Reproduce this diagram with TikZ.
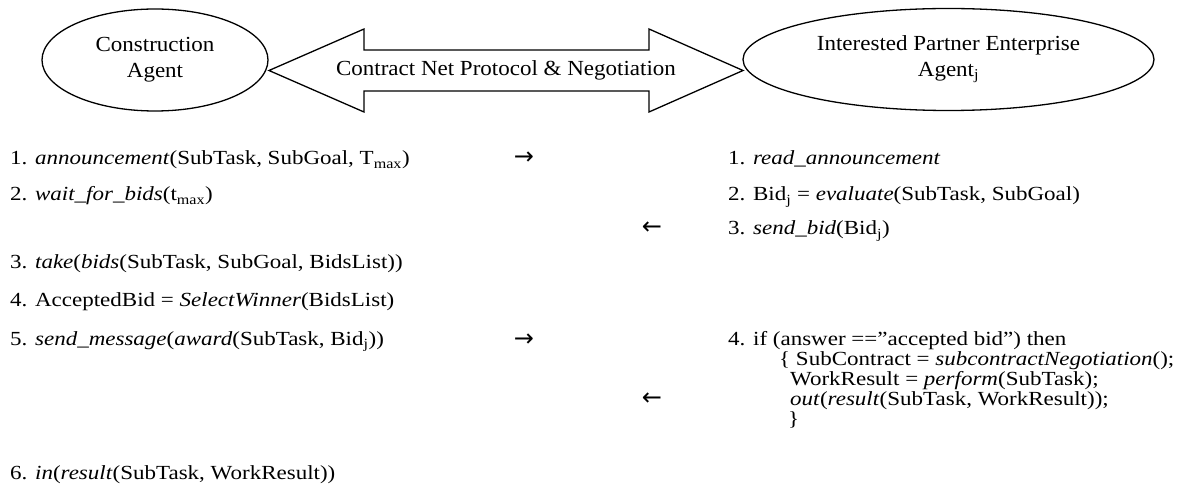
\documentclass[tikz,border=0pt]{standalone}
\usepackage{fontspec}
\setmainfont[FakeStretch=1.15]{Liberation Serif}
\newfontfamily\hdrfont[FakeStretch=1.07]{Liberation Serif}
\newfontfamily\arrfont{DejaVu Sans}
\usetikzlibrary{shapes.geometric}
\tikzset{
  agent/.style={draw, line width=1.3pt, ellipse, inner sep=0pt, align=center,
    font=\hdrfont\fontsize{21.5}{26}\selectfont},
  bigarrow/.style={draw, line width=1.3pt},
  hdr/.style={anchor=base, inner sep=0pt, font=\hdrfont\fontsize{21.5}{26}\selectfont},
  txt/.style={anchor=base west, inner sep=0pt, font=\fontsize{20}{24}\selectfont},
  dir/.style={anchor=base, inner sep=0pt, font=\arrfont\fontsize{24}{28}\selectfont}
}
\begin{document}
\begin{tikzpicture}[x=1pt,y=-1pt]
\useasboundingbox (0,0) rectangle (1186,486);
% agents
\node[agent, minimum width=226pt, minimum height=102pt] (ca) at (155,60) {Construction\\Agent};
\node[agent, minimum width=411pt, minimum height=102pt] (pa) at (948.5,59.5) {Interested Partner Enterprise\\Agent\textsubscript{j}};
% double arrow
\draw[bigarrow] (269,70.5) -- (364,29) -- (364,50) -- (649,50) -- (649,29) -- (743,70.5)
  -- (649,112) -- (649,91) -- (364,91) -- (364,112) -- cycle;
\node[hdr] (cnp) at (506,76) {Contract Net Protocol \& Negotiation};
% left column
\node[txt] (l1) at (10,165) {1. \textit{announcement}(SubTask, SubGoal, T\textsubscript{max})};
\node[txt] (l2) at (10,201) {2. \textit{wait\_for\_bids}(t\textsubscript{max})};
\node[txt] (l3) at (10,269) {3. \textit{take}(\textit{bids}(SubTask, SubGoal, BidsList))};
\node[txt] (l4) at (10,307) {4. AcceptedBid = \textit{SelectWinner}(BidsList)};
\node[txt] (l5) at (10,345) {5. \textit{send\_message}(\textit{award}(SubTask, Bid\textsubscript{j}))};
\node[txt] (l6) at (10,479) {6. \textit{in}(\textit{result}(SubTask, WorkResult))};
% direction arrows
\node[dir] (d1) at (524,165) {→};
\node[dir] (d2) at (652,235) {←};
\node[dir] (d3) at (524,346) {→};
\node[dir] (d4) at (652,405) {←};
% right column
\node[txt] (r1) at (728,165) {1. \textit{read\_announcement}};
\node[txt] (r2) at (728,201) {2. Bid\textsubscript{j} = \textit{evaluate}(SubTask, SubGoal)};
\node[txt] (r3) at (728,235) {3. \textit{send\_bid}(Bid\textsubscript{j})};
\node[txt] (r4) at (728,345) {4. if (answer ==”accepted bid”) then};
\node[txt] (r5) at (779,365) {\{ SubContract = \textit{subcontractNegotiation}();};
\node[txt] (r6) at (790,385) {WorkResult = \textit{perform}(SubTask);};
\node[txt] (r7) at (790,405) {\textit{out}(\textit{result}(SubTask, WorkResult));};
\node[txt] (r8) at (788,425) {\}};
\end{tikzpicture}
\end{document}
